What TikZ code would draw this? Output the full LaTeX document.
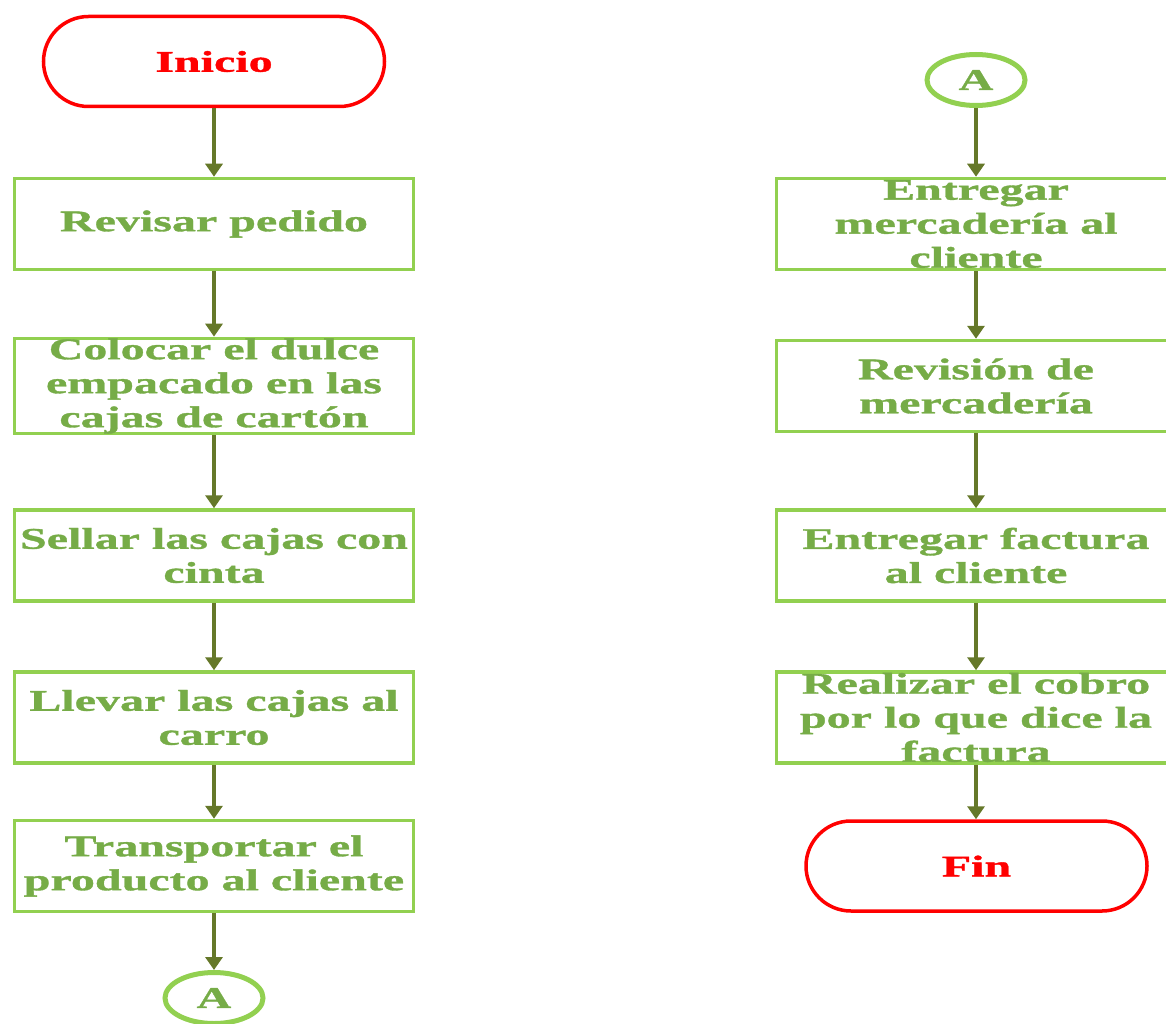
\documentclass[tikz,border=0pt]{standalone}
\usepackage{fontspec}
\newfontfamily\flowfont[FakeStretch=1.6, BoldFeatures={FakeBold=1.2}]{Liberation Serif}
\usetikzlibrary{arrows.meta,shapes.geometric}
\definecolor{boxgreen}{HTML}{92D050}
\definecolor{textgreen}{HTML}{76AC47}
\definecolor{arrowolive}{HTML}{657829}
\definecolor{endred}{HTML}{FF0000}

\begin{document}
\begin{tikzpicture}[x=1pt,y=-1pt,
  every node/.style={font=\flowfont\bfseries\fontsize{30}{34}\selectfont, align=center, inner sep=0pt},
  process/.style={draw=boxgreen, line width=3.5pt, minimum width=399pt, minimum height=91pt, text=textgreen},
  terminal/.style={draw=endred, line width=3.5pt, rounded corners=45pt, minimum width=341pt, minimum height=90pt, text=endred},
  connector/.style={ellipse, draw=boxgreen, line width=5pt, minimum width=98pt, minimum height=51pt, text=textgreen},
  flow/.style={draw=arrowolive, line width=4.5pt, -{Triangle[width=17pt,length=13pt]}}
]
\useasboundingbox (0,0) rectangle (1166,1024);
\clip (0,0) rectangle (1166,1024);

% left column
\node[terminal] (inicio) at (214,61.5) {Inicio};
\node[process] (l1) at (214,224) {Revisar pedido};
\node[process] (l2) at (214,386) {Colocar el dulce\\empacado en las\\cajas de cartón};
\node[process] (l3) at (214,555.5) {Sellar las cajas con\\cinta};
\node[process] (l4) at (214,717.5) {Llevar las cajas al\\carro};
\node[process] (l5) at (214,866) {Transportar el\\producto al cliente};
\node[connector] (aout) at (214,998) {A};

% right column
\node[connector] (ain) at (976,80) {A};
\node[process] (r1) at (976,224) {Entregar\\mercadería al\\cliente};
\node[process] (r2) at (976,386) {Revisión de\\mercadería};
\node[process] (r3) at (976,555.5) {Entregar factura\\al cliente};
\node[process] (r4) at (976,717.5) {Realizar el cobro\\por lo que dice la\\factura};
\node[terminal] (fin) at (976.5,866) {Fin};

% flow lines
\draw[flow] (inicio) -- (l1);
\draw[flow] (l1) -- (l2);
\draw[flow] (l2) -- (l3);
\draw[flow] (l3) -- (l4);
\draw[flow] (l4) -- (l5);
\draw[flow] (l5) -- (aout);
\draw[flow] (ain) -- (r1);
\draw[flow] (r1) -- (r2);
\draw[flow] (r2) -- (r3);
\draw[flow] (r3) -- (r4);
\draw[flow] (r4.south) -- (fin.north -| r4.south);
\end{tikzpicture}
\end{document}
